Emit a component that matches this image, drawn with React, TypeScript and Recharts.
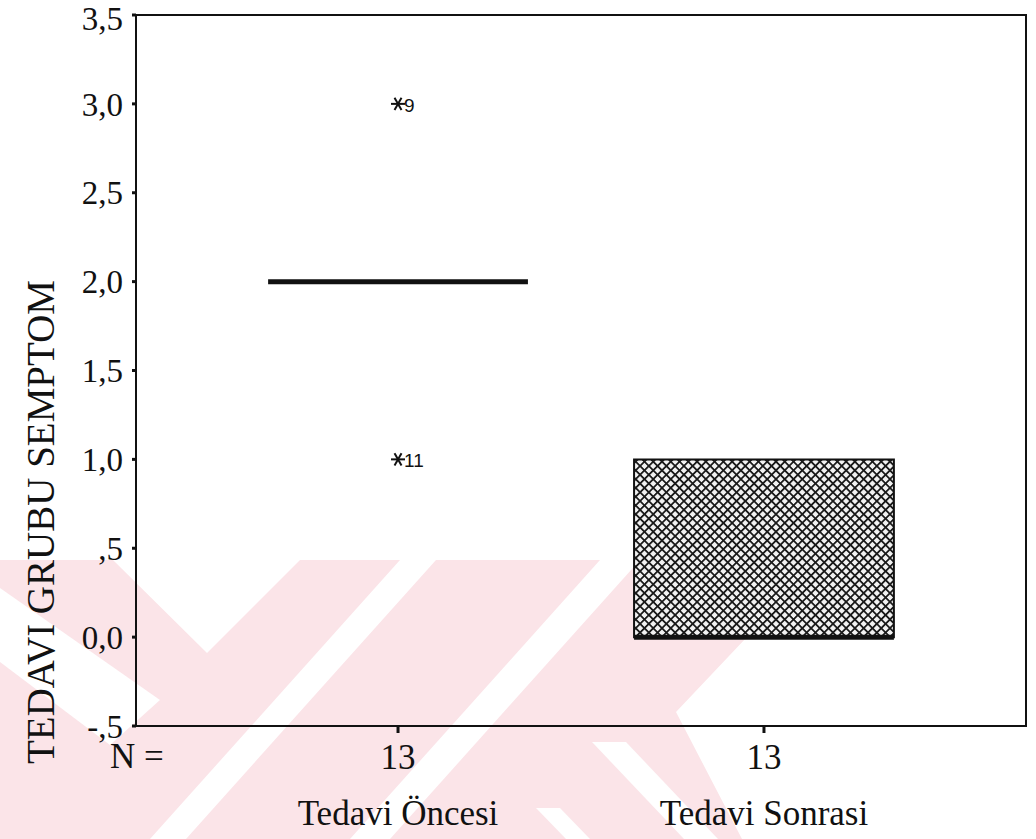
import React from 'react';
import {
  ComposedChart,
  Scatter,
  XAxis,
  YAxis,
  ReferenceArea,
  ReferenceLine,
  Label
} from 'recharts';

// boxplot summary per group (SPSS style)
const categories = ['Tedavi Öncesi', 'Tedavi Sonrasi'];
const groupIndex = [1, 2];
const counts = [13, 13];
const q1Values = [2, 0];
const medianValues = [2, 0];
const q3Values = [2, 1];

// extreme values (asterisks) with case numbers
const outlierGroup = [1, 1];
const outlierValue = [3, 1];
const outlierCase = ['9', '11'];

const yTicks = [-0.5, 0, 0.5, 1, 1.5, 2, 2.5, 3, 3.5];
const xDomain = [0.284, 2.716];
const yDomain = [-0.5, 3.5];
const boxHalf = 0.355;

const serif = 'Liberation Serif, Times New Roman, DejaVu Serif, serif';

const fmtTick = (v: number) => {
  let s = Math.abs(v).toFixed(1).replace('.', ',');
  if (v !== 0 && s.startsWith('0,')) s = s.slice(1);
  return (v < 0 ? '-' : '') + s;
};

const outliers = outlierGroup.map((g, i) => ({ x: g, y: outlierValue[i], id: outlierCase[i] }));

const Asterisk = (props: any) => {
  const { cx, cy, payload } = props;
  const r = 7;
  const arms = [0, 60, 120].map((a) => {
    const rad = (a * Math.PI) / 180;
    return (
      <line
        key={a}
        x1={cx - r * Math.cos(rad)}
        y1={cy - r * Math.sin(rad)}
        x2={cx + r * Math.cos(rad)}
        y2={cy + r * Math.sin(rad)}
        stroke="#111"
        strokeWidth={2}
      />
    );
  });
  return (
    <g>
      {arms}
      <text x={cx + 6} y={cy + 8} fontSize={19} style={{ fontFamily: 'Liberation Sans, Arial, sans-serif' }} fill="#111">
        {payload.id}
      </text>
    </g>
  );
};

const CategoryTick = (props: any) => {
  const { x, y, payload } = props;
  const i = groupIndex.indexOf(payload.value);
  if (i < 0) return null;
  return (
    <g>
      <text x={x} y={y + 34} textAnchor="middle" fontSize={35} style={{ fontFamily: serif }} fill="#111">
        {counts[i]}
      </text>
      <text x={x} y={y + 90} textAnchor="middle" fontSize={35} style={{ fontFamily: serif }} fill="#111">
        {categories[i]}
      </text>
    </g>
  );
};

// faint pink scan watermark behind the chart
const pink = '#fbe4e8';
const Watermark = () => (
  <svg width={1036} height={839} style={{ position: 'absolute', left: 0, top: 0 }}>
    <polygon points="0,560 820,560 676,712 742,839 0,839" fill={pink} />
    <polygon points="113,560 207,653 300,560" fill="#fff" />
    <polygon points="400,560 436,560 186,839 150,839" fill="#fff" />
    <polygon points="600,560 640,560 390,839 350,839" fill="#fff" />
    <polygon points="0,588 160,700 110,745 0,662" fill="#fff" />
    <polygon points="592,742 626,742 718,839 684,839" fill="#fff" />
    <polygon points="536,808 560,808 590,839 566,839" fill="#fff" />
  </svg>
);

export default function App() {
  return (
    <div style={{ position: 'absolute', left: 0, top: 0, width: 1036, height: 839, background: '#fff' }}>
      <Watermark />
      <div style={{ position: 'absolute', left: 0, top: 0 }}>
        <ComposedChart width={1036} height={839} margin={{ top: 15, right: 10, left: 0, bottom: 0 }}>
          <defs>
            <pattern id="hatch" width={6.2} height={6.2} patternUnits="userSpaceOnUse" patternTransform="rotate(45)">
              <rect width={6.2} height={6.2} fill="#f2f2f2" />
              <line x1={0} y1={0} x2={6.2} y2={0} stroke="#1a1a1a" strokeWidth={3.6} />
              <line x1={0} y1={0} x2={0} y2={6.2} stroke="#1a1a1a" strokeWidth={3.6} />
            </pattern>
          </defs>

          <XAxis
            xAxisId="b"
            dataKey="x"
            type="number"
            domain={xDomain}
            ticks={groupIndex}
            allowDataOverflow
            height={113}
            stroke="#111"
            strokeWidth={2}
            tickSize={7}
            tickLine={{ stroke: '#111', strokeWidth: 3 }}
            tick={<CategoryTick />}
          >
            <Label
              content={(p: any) => (
                <text x={p.viewBox.x - 26} y={p.viewBox.y + 42} fontSize={35} style={{ fontFamily: serif }} fill="#111">
                  N =
                </text>
              )}
            />
          </XAxis>

          <YAxis
            yAxisId="l"
            dataKey="y"
            type="number"
            domain={yDomain}
            ticks={yTicks}
            width={136}
            allowDataOverflow
            stroke="#111"
            strokeWidth={2}
            tickSize={4}
            tickMargin={9}
            tickLine={{ stroke: '#111', strokeWidth: 3 }}
            tickFormatter={fmtTick}
            tick={{ fontSize: 33, fill: '#111', style: { fontFamily: serif } }}
          >
            <Label
              content={() => (
                <text
                  x={40}
                  y={522}
                  transform="rotate(-90 40 522)"
                  textAnchor="middle"
                  dominantBaseline="central"
                  fontSize={39}
                  style={{ fontFamily: serif }}
                  fill="#111"
                >
                  TEDAVI GRUBU SEMPTOM
                </text>
              )}
            />
          </YAxis>

          {/* plot frame (top and right edges) */}
          <ReferenceArea
            xAxisId="b"
            yAxisId="l"
            x1={xDomain[0]}
            x2={xDomain[1]}
            y1={yDomain[0]}
            y2={yDomain[1]}
            fill="none"
            stroke="#111"
            strokeWidth={2}
            ifOverflow="visible"
          />

          {groupIndex.map((g, i) =>
            q3Values[i] > q1Values[i] ? (
              <ReferenceArea
                key={'box' + g}
                xAxisId="b"
                yAxisId="l"
                x1={g - boxHalf}
                x2={g + boxHalf}
                y1={q1Values[i]}
                y2={q3Values[i]}
                fill="url(#hatch)"
                fillOpacity={1}
                stroke="#111"
                strokeWidth={2}
                ifOverflow="visible"
              />
            ) : null
          )}
          {groupIndex.map((g, i) => (
            <ReferenceLine
              key={'med' + g}
              xAxisId="b"
              yAxisId="l"
              segment={[
                { x: g - boxHalf, y: medianValues[i] },
                { x: g + boxHalf, y: medianValues[i] }
              ]}
              stroke="#111"
              strokeWidth={5}
              ifOverflow="visible"
            />
          ))}

          <Scatter
            xAxisId="b"
            yAxisId="l"
            data={outliers}
            shape={<Asterisk />}
            isAnimationActive={false}
          />
        </ComposedChart>
      </div>
    </div>
  );
}
